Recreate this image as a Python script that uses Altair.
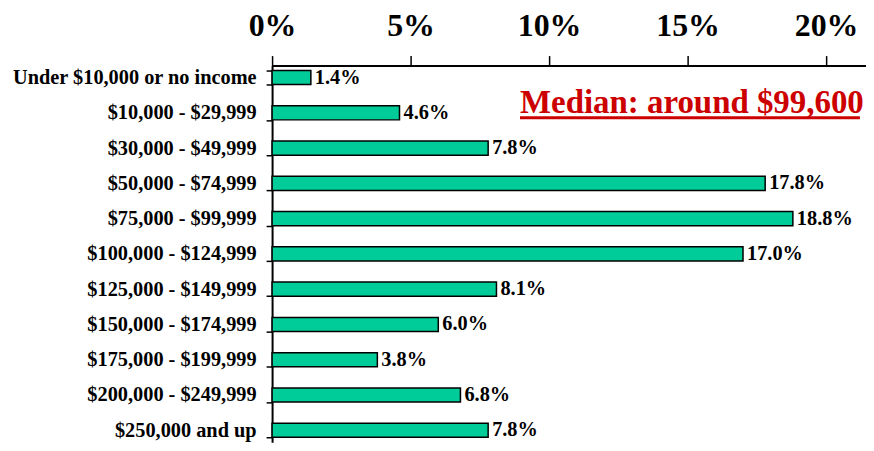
import altair as alt
import pandas as pd

categories = [
    "Under $10,000 or no income",
    "$10,000 - $29,999",
    "$30,000 - $49,999",
    "$50,000 - $74,999",
    "$75,000 - $99,999",
    "$100,000 - $124,999",
    "$125,000 - $149,999",
    "$150,000 - $174,999",
    "$175,000 - $199,999",
    "$200,000 - $249,999",
    "$250,000 and up",
]
shares = [1.4, 4.6, 7.8, 17.8, 18.8, 17.0, 8.1, 6.0, 3.8, 6.8, 7.8]
tick_values = [0, 5, 10, 15, 20]

median_text = "Median: around $99,600"
median_row = "$10,000 - $29,999"
median_text_end = 21.36
median_line_start = 8.95
median_line_end = 21.22

FONT = "'Liberation Serif', 'Times New Roman', Times, serif"

df = pd.DataFrame({"bracket": categories, "share": shares})
df["label"] = [f"{v:.1f}%" for v in shares]

x_scale = alt.Scale(domain=[0, 21.44], nice=False, zero=True)
y_scale = alt.Scale(domain=categories, paddingInner=0.6, paddingOuter=0.14)

x_axis = alt.Axis(
    orient="top", values=tick_values, labelExpr="datum.value + '%'",
    labelFont=FONT, labelFontSize=32, labelFontWeight="bold", labelColor="black",
    labelPadding=13, labelFlush=False, tickSize=10, tickColor="black", tickWidth=1.5,
    domainColor="black", domainWidth=2, grid=False, title=None,
)
y_axis = alt.Axis(
    labelFont=FONT, labelFontSize=20.4, labelFontWeight="bold", labelColor="black",
    labelPadding=10, tickSize=6, tickColor="black", tickWidth=1.5, tickBand="extent",
    domainColor="black", domainWidth=2, grid=False, title=None, labelLimit=400,
)

base = alt.Chart(df)

bars = base.mark_bar(color="#00CC99", stroke="black", strokeWidth=1.5).encode(
    x=alt.X("share:Q", scale=x_scale, axis=x_axis),
    y=alt.Y("bracket:N", scale=y_scale, axis=y_axis, sort=categories),
)

labels = base.mark_text(
    align="left", baseline="middle", dx=4, font=FONT, fontSize=20.4,
    fontWeight="bold", color="black",
).encode(
    x=alt.X("share:Q", scale=x_scale),
    y=alt.Y("bracket:N", scale=y_scale, sort=categories),
    text="label:N",
)

ann_df = pd.DataFrame({
    "bracket": [median_row], "tx": [median_text_end],
    "x0": [median_line_start], "x1": [median_line_end],
    "text": [median_text],
})
ann = alt.Chart(ann_df)
median_label = ann.mark_text(
    align="right", baseline="alphabetic", dy=0, font=FONT, fontSize=33,
    fontWeight="bold", color="#CC0000",
).encode(
    x=alt.X("tx:Q", scale=x_scale),
    y=alt.Y("bracket:N", scale=y_scale, sort=categories),
    text="text:N",
)
underline = ann.mark_rule(color="#CC0000", strokeWidth=3, yOffset=5).encode(
    x=alt.X("x0:Q", scale=x_scale),
    x2="x1:Q",
    y=alt.Y("bracket:N", scale=y_scale, sort=categories),
)

chart = (
    alt.layer(bars, labels, median_label, underline)
    .properties(
        width=596, height=378,
        autosize=alt.AutoSizeParams(type="none"),
        padding={"left": 265, "top": 57, "right": 0, "bottom": 0},
        background="white",
    )
    .configure_view(strokeWidth=0)
)

chart.save("out.html", embed_options={"renderer": "svg", "actions": False})
